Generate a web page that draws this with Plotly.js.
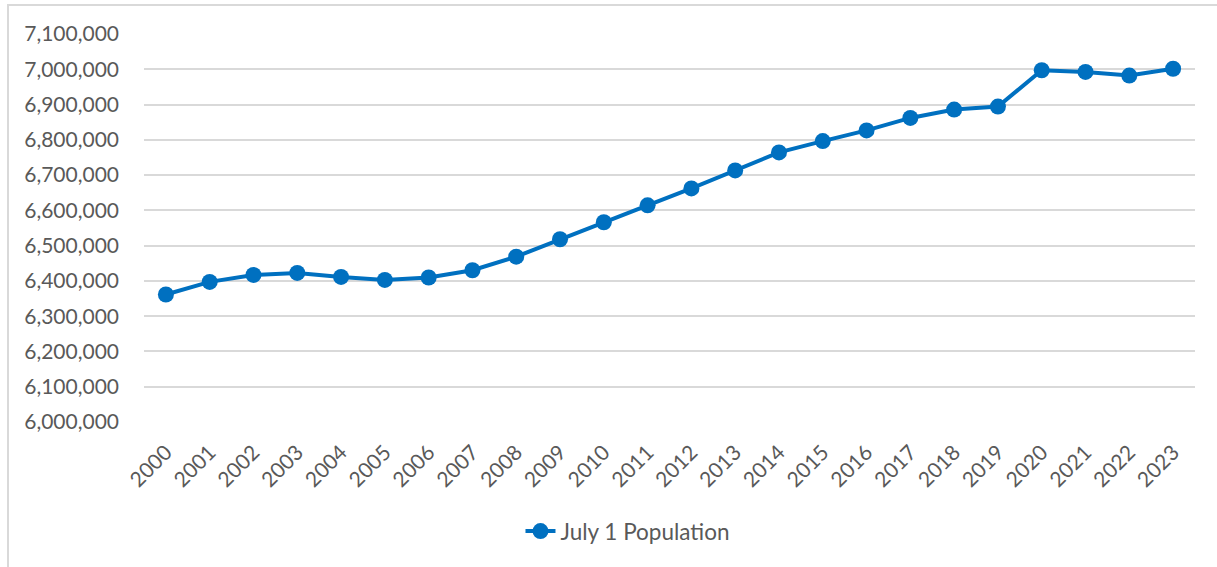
<!DOCTYPE html>
<html>
<head>
<meta charset="utf-8">
<script src="https://cdn.plot.ly/plotly-3.0.1.min.js"></script>
<style>
  html, body { margin: 0; padding: 0; background: #ffffff; overflow: hidden; }
  #chart { position: absolute; left: 0; top: 0; width: 1217px; height: 567px; }
  #frame { position: absolute; left: 7px; top: 4px; width: 1400px; height: 800px;
           border: 2px solid #d9d9d9; pointer-events: none; box-sizing: border-box; }
</style>
</head>
<body>
<div id="chart"></div>
<div id="frame"></div>
<script>
const years = ["2000","2001","2002","2003","2004","2005","2006","2007","2008","2009","2010","2011",
               "2012","2013","2014","2015","2016","2017","2018","2019","2020","2021","2022","2023"];
const population = [6361500, 6397200, 6417000, 6422700, 6411300, 6402800, 6409600, 6430300,
                    6468800, 6518100, 6566300, 6614200, 6662300, 6713300, 6764300, 6796300,
                    6826600, 6862000, 6885800, 6894300, 6997200, 6992400, 6982200, 7001500];
const seriesName = "July 1 Population";

const FONT = "Lato, 'Open Sans', sans-serif";
const TXT = "#595959";

Plotly.newPlot("chart", [{
  type: "scatter",
  mode: "lines+markers",
  x: years,
  y: population,
  name: seriesName,
  line: { color: "#0070C0", width: 4 },
  marker: { color: "#0070C0", size: 16 },
  showlegend: true
}], {
  width: 1217, height: 567,
  paper_bgcolor: "rgba(0,0,0,0)",
  plot_bgcolor: "#ffffff",
  margin: { l: 144, r: 22, t: 34, b: 145 },
  font: { family: FONT, color: TXT, size: 21 },
  xaxis: {
    type: "category",
    range: [-0.5, 23.5],
    tickangle: -45,
    tickfont: { family: FONT, color: TXT, size: 21 },
    showgrid: false,
    showline: false,
    ticks: "",
    ticklabelstandoff: 13,
    zeroline: false,
    fixedrange: true
  },
  yaxis: {
    range: [6000000, 7100000],
    dtick: 100000,
    tick0: 6000000,
    tickformat: ",d",
    tickfont: { family: FONT, color: TXT, size: 21 },
    showgrid: true,
    gridcolor: "#d9d9d9",
    gridwidth: 2,
    showline: false,
    zeroline: false,
    ticks: "",
    ticklabelstandoff: 24,
    fixedrange: true
  },
  legend: {
    orientation: "h",
    x: 0.4605, xanchor: "center",
    y: -0.282, yanchor: "middle",
    font: { family: FONT, color: TXT, size: 22.5 },
    bgcolor: "rgba(0,0,0,0)"
  },
  showlegend: true
}, { displayModeBar: false, staticPlot: true });
</script>
</body>
</html>
